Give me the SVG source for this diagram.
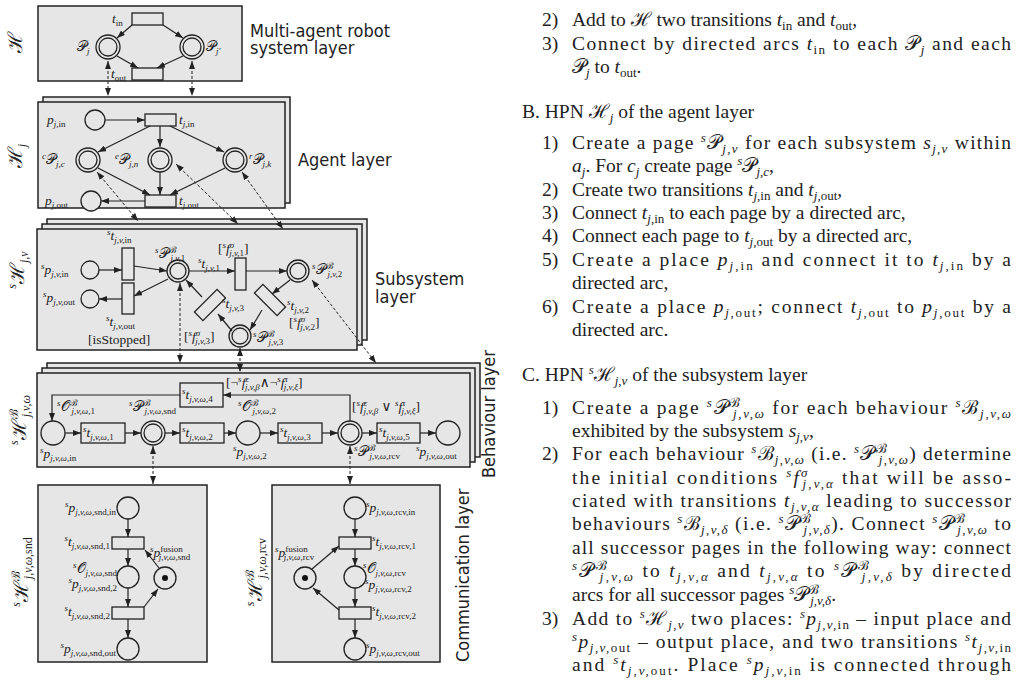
<svg xmlns="http://www.w3.org/2000/svg" width="1019" height="683" viewBox="0 0 1019 683">
<style>
.bx{fill:#e6e6e6;stroke:#222;stroke-width:1.5}
.tr{fill:#e6e6e6;stroke:#222;stroke-width:1.3}
.pl{fill:#e6e6e6;stroke:#222;stroke-width:1.3}
.ar{fill:none;stroke:#222;stroke-width:1.2;marker-end:url(#a)}
.da{fill:none;stroke:#222;stroke-width:1;stroke-dasharray:3 2;marker-start:url(#a);marker-end:url(#a)}
text{font-family:"Liberation Serif","DejaVu Serif",serif;fill:#222}
.d{font-size:13.5px}
.i{font-style:italic}
.d .b{font-size:9px;baseline-shift:-3px}
.d .p{font-size:9px;baseline-shift:5px}
.L{font-family:"Liberation Sans Narrow","DejaVu Sans Condensed","Liberation Sans",sans-serif;font-size:18px;font-stretch:condensed}
.r{font-size:19.5px;fill:#111}
.r .b{font-size:13px;baseline-shift:-4px}
.r .p{font-size:13px;baseline-shift:7px}
.big{font-size:20px}
</style>
<defs>
<marker id="a" markerUnits="userSpaceOnUse" markerWidth="8" markerHeight="6" refX="8" refY="3" orient="auto-start-reverse"><path d="M0,0L8,3L0,6z" fill="#222"/></marker>
</defs>

<!-- Multi-agent layer -->
<g id="layer-H">
<rect class="bx" x="38" y="6" width="204" height="75"/>
<rect class="tr" x="132" y="13" width="31" height="12"/>
<rect class="tr" x="132" y="68" width="31" height="12"/>
<circle class="pl" cx="108" cy="47" r="12"/><circle class="pl" cx="108" cy="47" r="9"/>
<circle class="pl" cx="192" cy="47" r="12"/><circle class="pl" cx="192" cy="47" r="9"/>
<text class="d" x="112" y="23"><tspan class="i">t</tspan><tspan class="b">in</tspan></text>
<text class="d" x="111" y="78"><tspan class="i">t</tspan><tspan class="b">out</tspan></text>
<text class="d" x="77" y="51">𝒫<tspan class="b i">j</tspan></text>
<text class="d" x="206" y="51">𝒫<tspan class="b i">j′</tspan></text>
<text class="big" transform="translate(22,42) rotate(-90)" text-anchor="middle">ℋ</text>
<text class="L" x="250" y="37">Multi-agent robot</text>
<text class="L" x="250" y="54">system layer</text>
</g>

<!-- Agent layer -->
<g id="layer-Hj">
<rect class="bx" x="43" y="97" width="247" height="106"/>
<rect class="bx" x="38" y="102" width="247" height="106"/>
<circle class="pl" cx="95" cy="120" r="10"/>
<rect class="tr" x="145" y="114" width="31" height="12"/>
<circle class="pl" cx="88" cy="160" r="12"/><circle class="pl" cx="88" cy="160" r="9"/>
<circle class="pl" cx="160" cy="160" r="12"/><circle class="pl" cx="160" cy="160" r="9"/>
<circle class="pl" cx="235" cy="160" r="12"/><circle class="pl" cx="235" cy="160" r="9"/>
<rect class="tr" x="145" y="195" width="31" height="12"/>
<circle class="pl" cx="91" cy="201" r="10"/>
<text class="d" x="47" y="124"><tspan class="i">p</tspan><tspan class="b"><tspan class="i">j</tspan>,in</tspan></text>
<text class="d" x="179" y="124"><tspan class="i">t</tspan><tspan class="b"><tspan class="i">j</tspan>,in</tspan></text>
<text class="d" x="42" y="164"><tspan class="p i">c</tspan>𝒫<tspan class="b i">j,c</tspan></text>
<text class="d" x="115" y="164"><tspan class="p i">e</tspan>𝒫<tspan class="b i">j,n</tspan></text>
<text class="d" x="249" y="164"><tspan class="p i">r</tspan>𝒫<tspan class="b i">j,k</tspan></text>
<text class="d" x="179" y="205"><tspan class="i">t</tspan><tspan class="b"><tspan class="i">j</tspan>,out</tspan></text>
<text class="d" x="45" y="205"><tspan class="i">p</tspan><tspan class="b"><tspan class="i">j</tspan>,out</tspan></text>
<text class="big" transform="translate(22,156) rotate(-90)" text-anchor="middle">ℋ<tspan font-size="12" baseline-shift="-4" font-style="italic">j</tspan></text>
<text class="L" x="298" y="166">Agent layer</text>
</g>

<!-- Subsystem layer -->
<g id="layer-sHjv">
<rect class="bx" x="47" y="219" width="320" height="121"/>
<rect class="bx" x="42" y="224" width="320" height="121"/>
<rect class="bx" x="37" y="229" width="320" height="121"/>
<circle class="pl" cx="90" cy="270" r="9"/>
<circle class="pl" cx="90" cy="299" r="9"/>
<rect class="tr" x="122" y="248" width="12" height="32"/>
<rect class="tr" x="122" y="283" width="12" height="31"/>
<circle class="pl" cx="178" cy="271" r="11"/><circle class="pl" cx="178" cy="271" r="8"/>
<rect class="tr" x="235" y="258" width="11" height="32"/>
<circle class="pl" cx="298" cy="271" r="11"/><circle class="pl" cx="298" cy="271" r="8"/>
<rect class="tr" x="194" y="299" width="32" height="12" transform="rotate(-45 210 305)"/>
<rect class="tr" x="254" y="294" width="32" height="12" transform="rotate(45 270 300)"/>
<circle class="pl" cx="240" cy="336" r="11"/><circle class="pl" cx="240" cy="336" r="8"/>
<text class="d" x="107" y="240"><tspan class="p i">s</tspan><tspan class="i">t</tspan><tspan class="b i">j,v,</tspan><tspan class="b">in</tspan></text>
<text class="d" x="41" y="274"><tspan class="p i">s</tspan><tspan class="i">p</tspan><tspan class="b i">j,v,</tspan><tspan class="b">in</tspan></text>
<text class="d" x="43" y="302"><tspan class="p i">s</tspan><tspan class="i">p</tspan><tspan class="b i">j,v,</tspan><tspan class="b">out</tspan></text>
<text class="d" x="106" y="326"><tspan class="p i">s</tspan><tspan class="i">t</tspan><tspan class="b i">j,v,</tspan><tspan class="b">out</tspan></text>
<text class="d" x="88" y="344">[isStopped]</text>
<text class="d" x="155" y="258"><tspan class="p i">s</tspan>𝒫<tspan class="p">ℬ</tspan><tspan class="b i" dx="-6">j,v,</tspan><tspan class="b">1</tspan></text>
<text class="d" x="198" y="268"><tspan class="p i">s</tspan><tspan class="i">t</tspan><tspan class="b i">j,v,</tspan><tspan class="b">1</tspan></text>
<text class="d" x="218" y="253">[<tspan class="p i">s</tspan><tspan class="i">f</tspan><tspan class="p i">σ</tspan><tspan class="b i" dx="-5">j,v,</tspan><tspan class="b">1</tspan>]</text>
<text class="d" x="312" y="274"><tspan class="p i">s</tspan>𝒫<tspan class="p">ℬ</tspan><tspan class="b i" dx="-6">j,v,</tspan><tspan class="b">2</tspan></text>
<text class="d" x="222" y="308"><tspan class="p i">s</tspan><tspan class="i">t</tspan><tspan class="b i">j,v,</tspan><tspan class="b">3</tspan></text>
<text class="d" x="287" y="310"><tspan class="p i">s</tspan><tspan class="i">t</tspan><tspan class="b i">j,v,</tspan><tspan class="b">2</tspan></text>
<text class="d" x="289" y="327">[<tspan class="p i">s</tspan><tspan class="i">f</tspan><tspan class="p i">σ</tspan><tspan class="b i" dx="-5">j,v,</tspan><tspan class="b">2</tspan>]</text>
<text class="d" x="184" y="341">[<tspan class="p i">s</tspan><tspan class="i">f</tspan><tspan class="p i">σ</tspan><tspan class="b i" dx="-5">j,v,</tspan><tspan class="b">3</tspan>]</text>
<text class="d" x="253" y="342"><tspan class="p i">s</tspan>𝒫<tspan class="p">ℬ</tspan><tspan class="b i" dx="-6">j,v,</tspan><tspan class="b">3</tspan></text>
<text class="big" transform="translate(24,270) rotate(-90)" text-anchor="middle"><tspan font-size="12" baseline-shift="8" font-style="italic">s</tspan>ℋ<tspan font-size="12" baseline-shift="-4" font-style="italic">j,v</tspan></text>
<text class="L" x="375" y="285">Subsystem</text>
<text class="L" x="375" y="303">layer</text>
</g>

<!-- Behaviour layer -->
<g id="layer-behaviour">
<rect class="bx" x="47" y="363" width="433" height="94"/>
<rect class="bx" x="42" y="368" width="433" height="94"/>
<rect class="bx" x="37" y="373" width="433" height="94"/>
<circle class="pl" cx="53" cy="433" r="12"/>
<rect class="tr" x="81" y="423" width="44" height="20"/>
<circle class="pl" cx="153" cy="433" r="12"/><circle class="pl" cx="153" cy="433" r="9"/>
<rect class="tr" x="180" y="423" width="44" height="20"/>
<circle class="pl" cx="248" cy="433" r="12"/>
<rect class="tr" x="278" y="423" width="44" height="20"/>
<circle class="pl" cx="350" cy="433" r="12"/><circle class="pl" cx="350" cy="433" r="9"/>
<rect class="tr" x="377" y="423" width="43" height="20"/>
<circle class="pl" cx="448" cy="433" r="12"/>
<rect class="tr" x="180" y="383" width="43" height="24"/>
<text class="d" x="83" y="437"><tspan class="p i">s</tspan><tspan class="i">t</tspan><tspan class="b i">j,v,ω,</tspan><tspan class="b">1</tspan></text>
<text class="d" x="182" y="437"><tspan class="p i">s</tspan><tspan class="i">t</tspan><tspan class="b i">j,v,ω,</tspan><tspan class="b">2</tspan></text>
<text class="d" x="280" y="437"><tspan class="p i">s</tspan><tspan class="i">t</tspan><tspan class="b i">j,v,ω,</tspan><tspan class="b">3</tspan></text>
<text class="d" x="379" y="437"><tspan class="p i">s</tspan><tspan class="i">t</tspan><tspan class="b i">j,v,ω,</tspan><tspan class="b">5</tspan></text>
<text class="d" x="182" y="399"><tspan class="p i">s</tspan><tspan class="i">t</tspan><tspan class="b i">j,v,ω,</tspan><tspan class="b">4</tspan></text>
<text class="d" x="226" y="387">[¬<tspan class="p i">s</tspan><tspan class="i">f</tspan><tspan class="p i">ϵ</tspan><tspan class="b i" dx="-4">j,v,β</tspan>∧¬<tspan class="p i">s</tspan><tspan class="i">f</tspan><tspan class="p i">τ</tspan><tspan class="b i" dx="-4">j,v,ξ</tspan>]</text>
<text class="d" x="352" y="411">[<tspan class="p i">s</tspan><tspan class="i">f</tspan><tspan class="p i">ϵ</tspan><tspan class="b i" dx="-4">j,v,β</tspan> ∨ <tspan class="p i">s</tspan><tspan class="i">f</tspan><tspan class="p i">τ</tspan><tspan class="b i" dx="-4">j,v,ξ</tspan>]</text>
<text class="d" x="57" y="411"><tspan class="p i">s</tspan>𝒪<tspan class="p">ℬ</tspan><tspan class="b i" dx="-6">j,v,ω,</tspan><tspan class="b">1</tspan></text>
<text class="d" x="129" y="411"><tspan class="p i">s</tspan>𝒫<tspan class="p">ℬ</tspan><tspan class="b i" dx="-6">j,v,ω,</tspan><tspan class="b">snd</tspan></text>
<text class="d" x="238" y="411"><tspan class="p i">s</tspan>𝒪<tspan class="p">ℬ</tspan><tspan class="b i" dx="-6">j,v,ω,</tspan><tspan class="b">2</tspan></text>
<text class="d" x="40" y="458"><tspan class="p i">s</tspan><tspan class="i">p</tspan><tspan class="b i">j,v,ω,</tspan><tspan class="b">in</tspan></text>
<text class="d" x="233" y="456"><tspan class="p i">s</tspan><tspan class="i">p</tspan><tspan class="b i">j,v,ω,</tspan><tspan class="b">2</tspan></text>
<text class="d" x="354" y="456"><tspan class="p i">s</tspan>𝒫<tspan class="p">ℬ</tspan><tspan class="b i" dx="-6">j,v,ω,</tspan><tspan class="b">rcv</tspan></text>
<text class="d" x="416" y="456"><tspan class="p i">s</tspan><tspan class="i">p</tspan><tspan class="b i">j,v,ω,</tspan><tspan class="b">out</tspan></text>
<text class="big" transform="translate(26,420) rotate(-90)" text-anchor="middle"><tspan font-size="12" baseline-shift="8" font-style="italic">s</tspan>ℋ<tspan font-size="12" baseline-shift="8">ℬ</tspan><tspan font-size="12" baseline-shift="-4" font-style="italic" dx="-8">j,v,ω</tspan></text>
<text class="L" transform="translate(495,478) rotate(-90)">Behaviour layer</text>
</g>

<!-- Communication: snd -->
<g id="comm-snd">
<rect class="bx" x="38" y="485" width="169" height="177"/>
<circle class="pl" cx="128" cy="508" r="11"/>
<rect class="tr" x="112" y="537" width="32" height="12"/>
<circle class="pl" cx="128" cy="577" r="11"/>
<circle class="pl" cx="165" cy="578" r="11"/><circle cx="165" cy="578" r="3" fill="#111"/>
<rect class="tr" x="112" y="607" width="32" height="12"/>
<circle class="pl" cx="128" cy="649" r="11"/>
<g class="d" text-anchor="end">
<text x="116" y="512"><tspan class="p i">s</tspan><tspan class="i">p</tspan><tspan class="b i">j,v,ω,</tspan><tspan class="b">snd,in</tspan></text>
<text x="110" y="546"><tspan class="p i">s</tspan><tspan class="i">t</tspan><tspan class="b i">j,v,ω,</tspan><tspan class="b">snd,1</tspan></text>
<text x="117" y="573"><tspan class="p i">s</tspan>𝒪<tspan class="b i">j,v,ω,</tspan><tspan class="b">snd</tspan></text>
<text x="117" y="588"><tspan class="p i">s</tspan><tspan class="i">p</tspan><tspan class="b i">j,v,ω,</tspan><tspan class="b">snd,2</tspan></text>
<text x="110" y="616"><tspan class="p i">s</tspan><tspan class="i">t</tspan><tspan class="b i">j,v,ω,</tspan><tspan class="b">snd,2</tspan></text>
<text x="116" y="653"><tspan class="p i">s</tspan><tspan class="i">p</tspan><tspan class="b i">j,v,ω,</tspan><tspan class="b">snd,out</tspan></text>
</g>
<text class="d" x="150" y="557"><tspan class="p i">s</tspan><tspan class="i">p</tspan><tspan class="p">fusion</tspan><tspan class="b i" dx="-24">j,v,ω,</tspan><tspan class="b">snd</tspan></text>
<text class="big" transform="translate(28,572) rotate(-90)" text-anchor="middle"><tspan font-size="12" baseline-shift="8" font-style="italic">s</tspan>ℋ<tspan font-size="12" baseline-shift="8">ℬ</tspan><tspan font-size="12" baseline-shift="-4" font-style="italic" dx="-8">j,v,ω,</tspan><tspan font-size="12" baseline-shift="-4">snd</tspan></text>
</g>

<!-- Communication: rcv -->
<g id="comm-rcv">
<rect class="bx" x="272" y="485" width="168" height="177"/>
<circle class="pl" cx="355" cy="508" r="11"/>
<rect class="tr" x="339" y="537" width="32" height="12"/>
<circle class="pl" cx="355" cy="577" r="11"/>
<circle class="pl" cx="305" cy="578" r="11"/><circle cx="305" cy="578" r="3" fill="#111"/>
<rect class="tr" x="339" y="607" width="32" height="12"/>
<circle class="pl" cx="355" cy="649" r="11"/>
<g class="d">
<text x="366" y="512"><tspan class="p i">s</tspan><tspan class="i">p</tspan><tspan class="b i">j,v,ω,</tspan><tspan class="b">rcv,in</tspan></text>
<text x="372" y="546"><tspan class="p i">s</tspan><tspan class="i">t</tspan><tspan class="b i">j,v,ω,</tspan><tspan class="b">rcv,1</tspan></text>
<text x="363" y="573"><tspan class="p i">s</tspan>𝒪<tspan class="b i">j,v,ω,</tspan><tspan class="b">rcv</tspan></text>
<text x="365" y="589"><tspan class="p i">s</tspan><tspan class="i">p</tspan><tspan class="b i">j,v,ω,</tspan><tspan class="b">rcv,2</tspan></text>
<text x="372" y="616"><tspan class="p i">s</tspan><tspan class="i">t</tspan><tspan class="b i">j,v,ω,</tspan><tspan class="b">rcv,2</tspan></text>
<text x="366" y="653"><tspan class="p i">s</tspan><tspan class="i">p</tspan><tspan class="b i">j,v,ω,</tspan><tspan class="b">rcv,out</tspan></text>
<text x="275" y="557"><tspan class="p i">s</tspan><tspan class="i">p</tspan><tspan class="p">fusion</tspan><tspan class="b i" dx="-24">j,v,ω,</tspan><tspan class="b">rcv</tspan></text>
</g>
<text class="big" transform="translate(262,572) rotate(-90)" text-anchor="middle"><tspan font-size="12" baseline-shift="8" font-style="italic">s</tspan>ℋ<tspan font-size="12" baseline-shift="8">ℬ</tspan><tspan font-size="12" baseline-shift="-4" font-style="italic" dx="-8">j,v,ω,</tspan><tspan font-size="12" baseline-shift="-4">rcv</tspan></text>
<text class="L" transform="translate(469,662) rotate(-90)">Communication layer</text>
</g>

<!-- Connectors -->
<g id="connectors">
<path class="ar" d="M132,25L117,38"/>
<path class="ar" d="M163,25L183,38"/>
<path class="ar" d="M117,56L138,68"/>
<path class="ar" d="M183,56L157,68"/>
<path class="da" d="M108,61V96"/>
<path class="da" d="M192,61V96"/>
<path class="ar" d="M105,120H145"/>
<path class="ar" d="M160,126V147"/>
<path class="ar" d="M150,126L98,152"/>
<path class="ar" d="M170,126L224,152"/>
<path class="ar" d="M98,168L150,195"/>
<path class="ar" d="M160,172V195"/>
<path class="ar" d="M225,168L170,195"/>
<path class="ar" d="M145,201H101"/>
<path class="da" d="M97,172L138,221"/>
<path class="da" d="M176,164L238,224"/>
<path class="da" d="M242,172L283,229"/>
<path class="ar" d="M99,270H122"/>
<path class="ar" d="M122,299H99"/>
<path class="ar" d="M134,266L167,271"/>
<path class="ar" d="M168,279L134,296"/>
<path class="ar" d="M189,271H235"/>
<path class="ar" d="M246,271H287"/>
<path class="ar" d="M290,280L272,294"/>
<path class="ar" d="M262,310L250,330"/>
<path class="ar" d="M232,331L218,314"/>
<path class="ar" d="M202,297L186,280"/>
<path class="da" d="M180,283V363"/>
<path class="da" d="M240,348V372"/>
<path class="da" d="M312,280L376,363"/>
<path class="ar" d="M65,433H81"/>
<path class="ar" d="M125,433H141"/>
<path class="ar" d="M165,433H180"/>
<path class="ar" d="M224,433H236"/>
<path class="ar" d="M260,433H278"/>
<path class="ar" d="M322,433H338"/>
<path class="ar" d="M362,433H377"/>
<path class="ar" d="M420,433H436"/>
<path class="ar" d="M350,421V395H223"/>
<path class="ar" d="M180,395H52V421"/>
<path class="da" d="M153,446V484"/>
<path class="da" d="M350,446V484"/>
<path class="ar" d="M128,519V537"/>
<path class="ar" d="M128,549V566"/>
<path class="ar" d="M128,588V607"/>
<path class="ar" d="M128,619V638"/>
<path class="ar" d="M159,568L145,550"/>
<path class="ar" d="M144,607L158,589"/>
<path class="ar" d="M355,519V537"/>
<path class="ar" d="M355,549V566"/>
<path class="ar" d="M355,588V607"/>
<path class="ar" d="M355,619V638"/>
<path class="ar" d="M312,569L339,546"/>
<path class="ar" d="M339,610L313,588"/>
</g>

<!-- Right-hand text -->
<g id="body-text" class="r">
<text x="542" y="26">2)</text>
<text x="572" y="26">Add to ℋ two transitions <tspan class="i">t</tspan><tspan class="b">in</tspan> and <tspan class="i">t</tspan><tspan class="b">out</tspan>,</text>
<text x="542" y="50">3)</text>
<text x="572" y="50" textLength="439" lengthAdjust="spacing">Connect by directed arcs <tspan class="i">t</tspan><tspan class="b">in</tspan> to each 𝒫<tspan class="b i">j</tspan> and each</text>
<text x="572" y="73">𝒫<tspan class="b i">j</tspan> to <tspan class="i">t</tspan><tspan class="b">out</tspan>.</text>
<text x="522" y="118">B. HPN ℋ<tspan class="b i">j</tspan> of the agent layer</text>
<text x="542" y="149">1)</text>
<text x="572" y="149" textLength="439" lengthAdjust="spacing">Create a page <tspan class="p i">s</tspan>𝒫<tspan class="b i">j,v</tspan> for each subsystem <tspan class="i">s</tspan><tspan class="b i">j,v</tspan> within</text>
<text x="572" y="172"><tspan class="i">a</tspan><tspan class="b i">j</tspan>. For <tspan class="i">c</tspan><tspan class="b i">j</tspan> create page <tspan class="p i">s</tspan>𝒫<tspan class="b i">j,c</tspan>,</text>
<text x="542" y="196">2)</text>
<text x="572" y="196">Create two transitions <tspan class="i">t</tspan><tspan class="b"><tspan class="i">j</tspan>,in</tspan> and <tspan class="i">t</tspan><tspan class="b"><tspan class="i">j</tspan>,out</tspan>,</text>
<text x="542" y="219">3)</text>
<text x="572" y="219">Connect <tspan class="i">t</tspan><tspan class="b"><tspan class="i">j</tspan>,in</tspan> to each page by a directed arc,</text>
<text x="542" y="242">4)</text>
<text x="572" y="242">Connect each page to <tspan class="i">t</tspan><tspan class="b"><tspan class="i">j</tspan>,out</tspan> by a directed arc,</text>
<text x="542" y="266">5)</text>
<text x="572" y="266" textLength="439" lengthAdjust="spacing">Create a place <tspan class="i">p</tspan><tspan class="b"><tspan class="i">j</tspan>,in</tspan> and connect it to <tspan class="i">t</tspan><tspan class="b"><tspan class="i">j</tspan>,in</tspan> by a</text>
<text x="572" y="289">directed arc,</text>
<text x="542" y="313">6)</text>
<text x="572" y="313" textLength="439" lengthAdjust="spacing">Create a place <tspan class="i">p</tspan><tspan class="b"><tspan class="i">j</tspan>,out</tspan>; connect <tspan class="i">t</tspan><tspan class="b"><tspan class="i">j</tspan>,out</tspan> to <tspan class="i">p</tspan><tspan class="b"><tspan class="i">j</tspan>,out</tspan> by a</text>
<text x="572" y="336">directed arc.</text>
<text x="522" y="381">C. HPN <tspan class="p i">s</tspan>ℋ<tspan class="b i">j,v</tspan> of the subsystem layer</text>
<text x="542" y="414">1)</text>
<text x="572" y="414" textLength="439" lengthAdjust="spacing">Create a page <tspan class="p i">s</tspan>𝒫<tspan class="p">ℬ</tspan><tspan class="b i" dx="-9">j,v,ω</tspan> for each behaviour <tspan class="p i">s</tspan>ℬ<tspan class="b i">j,v,ω</tspan></text>
<text x="572" y="437">exhibited by the subsystem <tspan class="i">s</tspan><tspan class="b i">j,v</tspan>,</text>
<text x="542" y="460">2)</text>
<text x="572" y="460" textLength="439" lengthAdjust="spacing">For each behaviour <tspan class="p i">s</tspan>ℬ<tspan class="b i">j,v,ω</tspan> (i.e. <tspan class="p i">s</tspan>𝒫<tspan class="p">ℬ</tspan><tspan class="b i" dx="-9">j,v,ω</tspan>) determine</text>
<text x="572" y="484" textLength="439" lengthAdjust="spacing">the initial conditions <tspan class="p i">s</tspan><tspan class="i">f</tspan><tspan class="p i">σ</tspan><tspan class="b i" dx="-7">j,v,α</tspan> that will be asso-</text>
<text x="572" y="507" textLength="439" lengthAdjust="spacing">ciated with transitions <tspan class="i">t</tspan><tspan class="b i">j,v,α</tspan> leading to successor</text>
<text x="572" y="530" textLength="439" lengthAdjust="spacing">behaviours <tspan class="p i">s</tspan>ℬ<tspan class="b i">j,v,δ</tspan> (i.e. <tspan class="p i">s</tspan>𝒫<tspan class="p">ℬ</tspan><tspan class="b i" dx="-9">j,v,δ</tspan>). Connect <tspan class="p i">s</tspan>𝒫<tspan class="p">ℬ</tspan><tspan class="b i" dx="-9">j,v,ω</tspan> to</text>
<text x="572" y="554" textLength="439" lengthAdjust="spacing">all successor pages in the following way: connect</text>
<text x="572" y="577" textLength="439" lengthAdjust="spacing"><tspan class="p i">s</tspan>𝒫<tspan class="p">ℬ</tspan><tspan class="b i" dx="-9">j,v,ω</tspan> to <tspan class="i">t</tspan><tspan class="b i">j,v,α</tspan> and <tspan class="i">t</tspan><tspan class="b i">j,v,α</tspan> to <tspan class="p i">s</tspan>𝒫<tspan class="p">ℬ</tspan><tspan class="b i" dx="-9">j,v,δ</tspan> by directed</text>
<text x="572" y="601">arcs for all successor pages <tspan class="p i">s</tspan>𝒫<tspan class="p">ℬ</tspan><tspan class="b i" dx="-9">j,v,δ</tspan>.</text>
<text x="542" y="625">3)</text>
<text x="572" y="625" textLength="439" lengthAdjust="spacing">Add to <tspan class="p i">s</tspan>ℋ<tspan class="b i">j,v</tspan> two places: <tspan class="p i">s</tspan><tspan class="i">p</tspan><tspan class="b"><tspan class="i">j,v,</tspan>in</tspan> – input place and</text>
<text x="572" y="648" textLength="439" lengthAdjust="spacing"><tspan class="p i">s</tspan><tspan class="i">p</tspan><tspan class="b"><tspan class="i">j,v,</tspan>out</tspan> – output place, and two transitions <tspan class="p i">s</tspan><tspan class="i">t</tspan><tspan class="b"><tspan class="i">j,v,</tspan>in</tspan></text>
<text x="572" y="671" textLength="439" lengthAdjust="spacing">and <tspan class="p i">s</tspan><tspan class="i">t</tspan><tspan class="b"><tspan class="i">j,v,</tspan>out</tspan>. Place <tspan class="p i">s</tspan><tspan class="i">p</tspan><tspan class="b"><tspan class="i">j,v,</tspan>in</tspan> is connected through</text>
</g>
</svg>
